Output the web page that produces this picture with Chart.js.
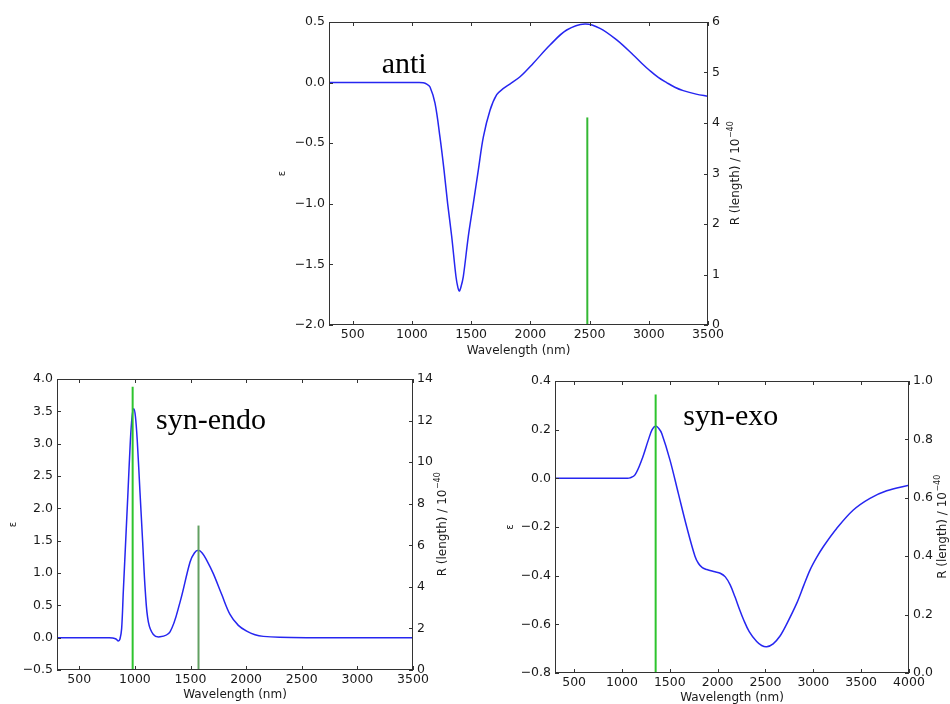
<!DOCTYPE html>
<html>
<head>
<meta charset="utf-8">
<script src="https://cdn.jsdelivr.net/npm/chart.js@4.4.1/dist/chart.umd.min.js"></script>
<style>
  body { margin: 0; background: #fff; }
  #page { position: relative; width: 950px; height: 704px; overflow: hidden; background: #fff; }
  .box { position: absolute; }
</style>
</head>
<body>
<div id="page">
  <div class="box" style="left:270px; top:0px; width:480px; height:362px;"><canvas id="anti"></canvas></div>
  <div class="box" style="left:0px; top:362px; width:460px; height:342px;"><canvas id="endo"></canvas></div>
  <div class="box" style="left:470px; top:362px; width:480px; height:342px;"><canvas id="exo"></canvas></div>
</div>
<script>
// --- anti ---
const antiWl  = [300, 600, 900, 1000, 1050, 1096, 1125, 1153, 1195, 1237, 1271, 1302, 1336, 1372, 1388, 1400, 1413, 1434, 1476, 1518, 1561, 1603, 1659, 1716, 1770, 1830, 1913, 2025, 2166, 2307, 2461, 2588, 2729, 2869, 2940, 3010, 3080, 3151, 3220, 3291, 3400, 3500];
const antiEps = [0, 0, 0, 0, 0, -0.002, -0.012, -0.036, -0.17, -0.45, -0.72, -1.0, -1.27, -1.60, -1.69, -1.72, -1.69, -1.60, -1.27, -1.0, -0.72, -0.45, -0.23, -0.10, -0.05, -0.01, 0.048, 0.16, 0.31, 0.434, 0.484, 0.448, 0.352, 0.228, 0.16, 0.098, 0.043, 0.0, -0.038, -0.066, -0.095, -0.113];
const antiStickWl = [2481];
const antiStickR  = [4.11];
const antiXTicks = [500, 1000, 1500, 2000, 2500, 3000, 3500];
const antiYTicks = [-2.0, -1.5, -1.0, -0.5, 0.0, 0.5];
const antiRTicks = [0, 1, 2, 3, 4, 5, 6];

// --- syn-endo ---
const endoWl  = [300, 500, 700, 770, 800, 830, 851, 866, 881, 896, 917, 938, 959, 975, 990, 1005, 1022, 1046, 1070, 1094, 1121, 1166, 1226, 1316, 1406, 1496, 1535, 1570, 1605, 1645, 1705, 1780, 1855, 1930, 2005, 2080, 2155, 2300, 2600, 3000, 3500];
const endoEps = [0, 0, 0, 0, -0.005, -0.02, -0.05, -0.02, 0.14, 0.71, 1.48, 2.25, 3.03, 3.42, 3.54, 3.42, 3.03, 2.25, 1.48, 0.71, 0.245, 0.05, 0.013, 0.09, 0.55, 1.17, 1.31, 1.35, 1.31, 1.2, 0.99, 0.67, 0.36, 0.19, 0.1, 0.045, 0.02, 0.005, 0, 0, 0];
const endoStickWl = [980, 1572];
const endoStickR  = [13.63, 6.95];
const endoXTicks = [500, 1000, 1500, 2000, 2500, 3000, 3500];
const endoYTicks = [-0.5, 0.0, 0.5, 1.0, 1.5, 2.0, 2.5, 3.0, 3.5, 4.0];
const endoRTicks = [0, 2, 4, 6, 8, 10, 12, 14];

// --- syn-exo ---
const exoWl  = [300, 600, 900, 1000, 1050, 1084, 1136, 1206, 1275, 1315, 1352, 1385, 1415, 1502, 1589, 1677, 1763, 1800, 1840, 1887, 1972, 2027, 2080, 2131, 2181, 2230, 2268, 2330, 2408, 2460, 2513, 2580, 2652, 2720, 2826, 2900, 2965, 3035, 3104, 3244, 3418, 3592, 3767, 4000];
const exoEps = [0, 0, 0, 0, 0, 0.002, 0.014, 0.075, 0.157, 0.2, 0.215, 0.205, 0.185, 0.075, -0.062, -0.2, -0.32, -0.35, -0.367, -0.375, -0.384, -0.39, -0.405, -0.438, -0.487, -0.54, -0.578, -0.63, -0.671, -0.687, -0.692, -0.68, -0.648, -0.6, -0.514, -0.44, -0.377, -0.325, -0.281, -0.206, -0.13, -0.082, -0.051, -0.028];
const exoStickWl = [1352];
const exoStickR  = [0.954];
const exoXTicks = [500, 1000, 1500, 2000, 2500, 3000, 3500, 4000];
const exoYTicks = [-0.8, -0.6, -0.4, -0.2, 0.0, 0.2, 0.4];
const exoRTicks = [0.0, 0.2, 0.4, 0.6, 0.8, 1.0];

const FONT = "'DejaVu Sans', sans-serif";
const TXT = '#1a1a1a';
const BLUE = '#2626f0';

const fmtEps = v => v.toFixed(1).replace('-', '\u2212');

// ticks vers l'intérieur + cadre + titres des axes + étiquette
const decor = {
    id: 'decor',
    afterDraw(chart, args, o) {
        const { ctx, chartArea: a, scales } = chart;
        ctx.save();
        ctx.strokeStyle = '#333';
        ctx.lineWidth = 1;
        ctx.beginPath();
        scales.x.ticks.forEach(t => {
            const px = Math.round(scales.x.getPixelForValue(t.value)) + 0.5;
            ctx.moveTo(px, a.bottom); ctx.lineTo(px, a.bottom - 4);
            ctx.moveTo(px, a.top); ctx.lineTo(px, a.top + 4);
        });
        scales.y.ticks.forEach(t => {
            const py = Math.round(scales.y.getPixelForValue(t.value)) + 0.5;
            ctx.moveTo(a.left, py); ctx.lineTo(a.left + 4, py);
        });
        scales.y2.ticks.forEach(t => {
            const py = Math.round(scales.y2.getPixelForValue(t.value)) + 0.5;
            ctx.moveTo(a.right, py); ctx.lineTo(a.right - 4, py);
        });
        ctx.stroke();
        ctx.strokeRect(Math.round(a.left) + 0.5, Math.round(a.top) + 0.5,
            Math.round(a.right - a.left) - 1, Math.round(a.bottom - a.top) - 1);

        ctx.fillStyle = TXT;
        const cy = (a.top + a.bottom) / 2;

        // titre x
        ctx.font = '12px ' + FONT;
        ctx.textAlign = 'center';
        ctx.textBaseline = 'middle';
        ctx.fillText('Wavelength (nm)', (a.left + a.right) / 2, a.bottom + o.xTitleDy);

        // epsilon à gauche
        ctx.save();
        ctx.translate(o.epsX, cy);
        ctx.rotate(-Math.PI / 2);
        ctx.font = '10px ' + FONT;
        ctx.fillText('\u03b5', 0, 0);
        ctx.restore();

        // R (length) / 10^-40 à droite
        ctx.save();
        ctx.translate(a.right + o.rTitleDx, cy);
        ctx.rotate(-Math.PI / 2);
        ctx.textAlign = 'left';
        ctx.font = '12px ' + FONT;
        const main = 'R (length) / 10';
        const w1 = ctx.measureText(main).width;
        ctx.font = '8px ' + FONT;
        const sup = '\u221240';
        const w2 = ctx.measureText(sup).width;
        const x0 = -(w1 + w2) / 2;
        ctx.font = '12px ' + FONT;
        ctx.fillText(main, x0, 0);
        ctx.font = '8px ' + FONT;
        ctx.fillText(sup, x0 + w1 + 0.5, -5);
        ctx.restore();

        // étiquette du conformère
        ctx.font = "30px 'Liberation Serif', 'Times New Roman', serif";
        ctx.fillStyle = '#000';
        ctx.textAlign = 'left';
        ctx.textBaseline = 'alphabetic';
        ctx.fillText(o.note, scales.x.getPixelForValue(o.noteX), scales.y.getPixelForValue(o.noteY));
        ctx.restore();
    }
};

function makeChart(id, c) {
    const sticks = c.stickWl.map((w, i) => ({
        data: [{ x: w, y: 0 }, { x: w, y: c.stickR[i] }],
        yAxisID: 'y2',
        borderColor: c.stickColors[i],
        borderWidth: 2,
        pointRadius: 0,
        order: 0
    }));
    const curve = {
        data: c.wl.map((x, i) => ({ x, y: c.eps[i] })),
        yAxisID: 'y',
        borderColor: BLUE,
        borderWidth: 1.5,
        pointRadius: 0,
        tension: 0.35,
        order: 1
    };
    const tickFont = { family: FONT, size: 12.5 };
    return new Chart(document.getElementById(id), {
        type: 'line',
        data: { datasets: [...sticks, curve] },
        plugins: [decor],
        options: {
            responsive: true,
            maintainAspectRatio: false,
            animation: false,
            events: [],
            layout: { padding: { top: c.topPad, left: 0, right: 0, bottom: 0 } },
            plugins: {
                legend: { display: false },
                tooltip: { enabled: false },
                decor: c.decor
            },
            scales: {
                x: {
                    type: 'linear', min: c.xMin, max: c.xMax,
                    afterBuildTicks: s => { s.ticks = c.xTicks.map(v => ({ value: v })); },
                    afterFit: s => { s.height = c.bottomH; },
                    ticks: { font: tickFont, color: TXT, padding: 2, maxRotation: 0, autoSkip: false, callback: v => String(v) },
                    grid: { display: false, drawTicks: false },
                    border: { display: false }
                },
                y: {
                    type: 'linear', position: 'left', min: c.yMin, max: c.yMax,
                    afterBuildTicks: s => { s.ticks = c.yTicks.map(v => ({ value: v })); },
                    afterFit: s => { s.width = c.leftW; },
                    ticks: { font: tickFont, color: TXT, padding: 4, autoSkip: false, callback: v => fmtEps(v) },
                    grid: { display: false, drawTicks: false },
                    border: { display: false }
                },
                y2: {
                    type: 'linear', position: 'right', min: c.rMin, max: c.rMax,
                    afterBuildTicks: s => { s.ticks = c.rTicks.map(v => ({ value: v })); },
                    afterFit: s => { s.width = c.rightW; },
                    ticks: { font: tickFont, color: TXT, padding: 4, autoSkip: false, callback: c.rFmt },
                    grid: { display: false, drawTicks: false },
                    border: { display: false }
                }
            }
        }
    });
}

makeChart('anti', {
    wl: antiWl, eps: antiEps, stickWl: antiStickWl, stickR: antiStickR, stickColors: ['#34b834'],
    xMin: 300, xMax: 3500, xTicks: antiXTicks,
    yMin: -2.0, yMax: 0.5, yTicks: antiYTicks,
    rMin: 0, rMax: 6, rTicks: antiRTicks, rFmt: v => String(v),
    leftW: 59, rightW: 42, bottomH: 37, topPad: 22,
    decor: { note: 'anti', noteX: 745, noteY: 0.079, epsX: 12, rTitleDx: 28, xTitleDy: 26 }
});

makeChart('endo', {
    wl: endoWl, eps: endoEps, stickWl: endoStickWl, stickR: endoStickR, stickColors: ['#2ec42e', '#62a062'],
    xMin: 300, xMax: 3500, xTicks: endoXTicks,
    yMin: -0.5, yMax: 4.0, yTicks: endoYTicks,
    rMin: 0, rMax: 14, rTicks: endoRTicks, rFmt: v => String(v),
    leftW: 57, rightW: 47, bottomH: 34, topPad: 17,
    decor: { note: 'syn-endo', noteX: 1190, noteY: 3.22, epsX: 13, rTitleDx: 30, xTitleDy: 25 }
});

makeChart('exo', {
    wl: exoWl, eps: exoEps, stickWl: exoStickWl, stickR: exoStickR, stickColors: ['#2ec42e'],
    xMin: 300, xMax: 4000, xTicks: exoXTicks,
    yMin: -0.8, yMax: 0.4, yTicks: exoYTicks,
    rMin: 0, rMax: 1.0, rTicks: exoRTicks, rFmt: v => v.toFixed(1),
    leftW: 85, rightW: 41, bottomH: 31, topPad: 19,
    decor: { note: 'syn-exo', noteX: 1641, noteY: 0.219, epsX: 40, rTitleDx: 34, xTitleDy: 25 }
});
</script>
</body>
</html>
